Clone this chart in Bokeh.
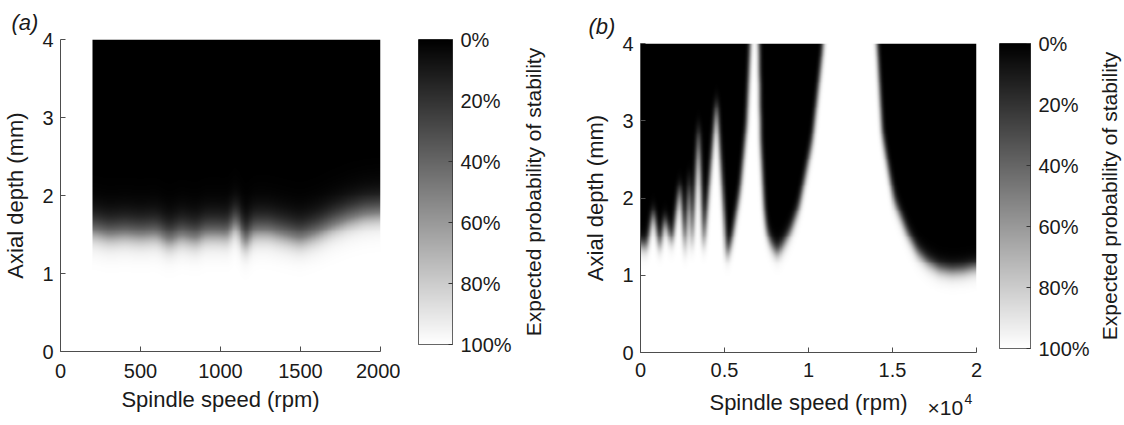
import numpy as np
from bokeh.plotting import figure
from bokeh.layouts import row, column
from bokeh.models import (Range1d, LinearColorMapper, FixedTicker,
                          CustomJSTickFormatter, Title)
from bokeh.core.properties import value
from bokeh.embed import file_html
from bokeh.resources import INLINE

# ---------------- data ----------------
# (a) 50% stability limit (mm) versus spindle speed (rpm)
speed_a = [200, 300, 400, 500, 600, 680, 750, 850, 900, 1000, 1050, 1095,
           1125, 1150, 1175, 1200, 1300, 1400, 1500, 1600, 1700, 1800, 1900, 2000]
limit_a = [1.55, 1.50, 1.52, 1.50, 1.52, 1.42, 1.50, 1.45, 1.52, 1.52, 1.50, 1.70,
           1.55, 1.36, 1.45, 1.55, 1.55, 1.50, 1.45, 1.52, 1.62, 1.70, 1.76, 1.78]
spread_a = (0.09, 0.13)     # below / above the limit

# (b) 50% stability limit (mm) versus spindle speed (rpm)
speed_b = [0, 360, 750, 1140, 1430, 1850, 2330, 2640, 2880, 3050, 3450, 3740,
           4530, 5120, 5420, 5920, 6320, 6510, 6800, 7050, 7150, 7350, 7500,
           7750, 8150, 8530, 8940, 9430, 10230, 10830, 11200, 13700, 14100,
           14400, 15100, 15900, 16500, 17100, 17800, 18500, 19200, 20000]
limit_b = [1.40, 1.36, 1.85, 1.32, 1.75, 1.40, 2.20, 1.28, 2.30, 1.30, 3.00, 1.30,
           3.30, 1.22, 1.45, 2.10, 2.97, 3.90, 6.00, 3.90, 2.74, 1.88, 1.58,
           1.41, 1.28, 1.41, 1.58, 1.88, 2.74, 3.88, 5.00, 5.00, 4.00,
           2.84, 1.97, 1.54, 1.30, 1.17, 1.08, 1.05, 1.06, 1.10]
spread_b = (0.055, 0.055)

xticks_a = [0, 500, 1000, 1500, 2000]
xticks_b = [0, 0.5, 1, 1.5, 2]
yticks = [0, 1, 2, 3, 4]
cbar_ticks = [0, 20, 40, 60, 80, 100]

# ---------------- styling ----------------
FONT = "Liberation Sans"
TICK_FS = "20px"
LAB_FS = "22px"
AX = "#4d4d4d"
TXT = "#1a1a1a"
gray = ["#%02x%02x%02x" % (i, i, i) for i in range(256)]
mapper = LinearColorMapper(palette=gray, low=0, high=100)


def hblur(img, sigma):
    r = int(3 * sigma)
    k = np.exp(-0.5 * (np.arange(-r, r + 1) / sigma) ** 2)
    k /= k.sum()
    pad = np.pad(img, ((0, 0), (r, r)), mode="edge")
    n = img.shape[1]
    return sum(k[i] * pad[:, i:i + n] for i in range(2 * r + 1))


def prob_grid(speeds, limits, spread, x0, x1, nx, ny, sigma):
    xs = np.linspace(x0, x1, nx)
    ys = np.linspace(0, 4, ny)
    lim = np.interp(xs, speeds, limits)
    diff = ys[:, None] - lim[None, :]
    w = np.where(diff < 0, spread[0], spread[1])
    arg = np.clip(diff / w, -50, 50)
    return hblur(100.0 / (1.0 + np.exp(arg)), sigma)


def style_axes(p):
    for ax in (p.xaxis[0], p.yaxis[0]):
        ax.axis_line_color = AX
        ax.major_tick_line_color = AX
        ax.minor_tick_line_color = None
        ax.major_tick_in = 5
        ax.major_tick_out = 0
        ax.major_label_text_font = FONT
        ax.major_label_text_font_size = TICK_FS
        ax.major_label_text_color = TXT
        ax.axis_label_text_font = FONT
        ax.axis_label_text_font_size = LAB_FS
        ax.axis_label_text_font_style = "normal"
        ax.axis_label_text_color = TXT
    p.grid.grid_line_color = None
    p.outline_line_color = None


def main_fig(width, height, left, right, top, bottom, xmax, tag, tag_offset):
    p = figure(width=width, height=height, output_backend="svg", toolbar_location=None,
               x_range=Range1d(0, xmax), y_range=Range1d(0, 4),
               min_border_left=left, min_border_right=right,
               min_border_top=top, min_border_bottom=bottom)
    p.title = Title(text=tag, align="left", offset=tag_offset, text_font=FONT,
                    text_font_size=LAB_FS, text_font_style="italic",
                    text_color=TXT, standoff=9)
    style_axes(p)
    p.yaxis.ticker = FixedTicker(ticks=yticks)
    p.yaxis.axis_label = "Axial depth (mm)"
    p.xaxis.major_label_standoff = 12
    p.yaxis.major_label_standoff = 7
    p.xaxis.axis_label_standoff = 6
    p.yaxis.axis_label_standoff = 11
    return p


def drop_title(fig):
    try:
        fig.title = None
    except Exception:
        try:
            fig.title_location = None
        except Exception:
            pass


def strip(width, height, left, right, xmax):
    s = figure(width=width, height=height, output_backend="svg", toolbar_location=None,
               x_range=Range1d(0, xmax), y_range=Range1d(0, height),
               x_axis_location=None, y_axis_location=None,
               min_border_left=left, min_border_right=right, min_border_top=0,
               min_border_bottom=0)
    drop_title(s)
    s.grid.grid_line_color = None
    s.outline_line_color = None
    return s


def put_text(s, x, y, txt, size, align="left"):
    s.text(x=[x], y=[y], text=[txt], text_font=value(FONT),
           text_font_size=value(size), text_color=TXT,
           text_align=align, text_baseline="alphabetic")


def colorbar_fig(width, left, right, top, bottom):
    c = figure(width=width, height=425, output_backend="svg", toolbar_location=None,
               x_range=Range1d(0, 1), y_range=Range1d(0, 100), y_axis_location="right",
               min_border_left=left, min_border_right=right,
               min_border_top=top, min_border_bottom=bottom)
    drop_title(c)
    grad = np.linspace(100, 0, 256)[:, None] * np.ones((1, 2))
    c.image(image=[grad], x=0, y=0, dw=1, dh=100, color_mapper=mapper)
    c.xaxis.visible = False
    c.grid.grid_line_color = None
    c.outline_line_color = "#333333"
    ax = c.yaxis[0]
    ax.ticker = FixedTicker(ticks=cbar_ticks)
    ax.formatter = CustomJSTickFormatter(code="return (100 - tick) + '%';")
    ax.axis_line_color = None
    ax.major_tick_line_color = "#333333"
    ax.minor_tick_line_color = None
    ax.major_tick_in = 4
    ax.major_tick_out = 0
    ax.major_label_standoff = 8
    ax.major_label_text_font = FONT
    ax.major_label_text_font_size = TICK_FS
    ax.major_label_text_color = TXT
    return c


def cbar_label_fig(width, left, top, bottom):
    s = figure(width=width, height=425, output_backend="svg", toolbar_location=None,
               x_range=Range1d(0, 1), y_range=Range1d(0, 1),
               min_border_left=left, min_border_right=0,
               min_border_top=top, min_border_bottom=bottom)
    drop_title(s)
    s.xaxis.visible = False
    s.grid.grid_line_color = None
    s.outline_line_color = None
    ax = s.yaxis[0]
    ax.ticker = FixedTicker(ticks=[])
    ax.axis_line_color = None
    ax.major_tick_line_color = None
    ax.minor_tick_line_color = None
    ax.major_label_text_font_size = "0px"
    ax.axis_label = "Expected probability of stability"
    ax.axis_label_text_font = FONT
    ax.axis_label_text_font_size = "21px"
    ax.axis_label_text_font_style = "normal"
    ax.axis_label_text_color = TXT
    ax.axis_label_standoff = 2
    return s


# ---------------- panel (a) ----------------
fa = main_fig(400, 425, 57, 20, 39, 74, 2000, "(a)", -49)
fa.xaxis.ticker = FixedTicker(ticks=xticks_a)
fa.xaxis.axis_label = "Spindle speed (rpm)"
img_a = prob_grid(speed_a, limit_a, spread_a, speed_a[0], speed_a[-1], 361, 321, 4.0)
fa.image(image=[img_a], x=speed_a[0], y=0, dw=speed_a[-1] - speed_a[0], dh=4,
         color_mapper=mapper)
ca = colorbar_fig(118, 18, 66, 39, 81)
la = cbar_label_fig(42, 28, 39, 81)

# ---------------- panel (b) ----------------
fb = main_fig(430, 386, 80, 14, 43, 34, 2, "(b)", -52)
fb.xaxis.major_label_standoff = 10
fb.xaxis.ticker = FixedTicker(ticks=xticks_b)
fb.xaxis.formatter = CustomJSTickFormatter(code="return tick.toString();")
img_b = prob_grid(speed_b, limit_b, spread_b, 0, 20000, 501, 321, 3.2)
fb.image(image=[img_b], x=0, y=0, dw=speed_b[-1] / 1e4, dh=4, color_mapper=mapper)
lab_b = strip(430, 39, 80, 14, 336)
put_text(lab_b, 168, 23, "Spindle speed (rpm)", LAB_FS, align="center")
put_text(lab_b, 287, 18, "×10", "21px")
put_text(lab_b, 324, 27, "4", "14px")
cb = colorbar_fig(102, 9, 60, 43, 77)
lb = cbar_label_fig(32, 30, 43, 77)

layout = row(column(fa), column(ca), column(la), column(fb, lab_b),
             column(cb), column(lb))
open("out.html", "w").write(file_html(layout, INLINE))
